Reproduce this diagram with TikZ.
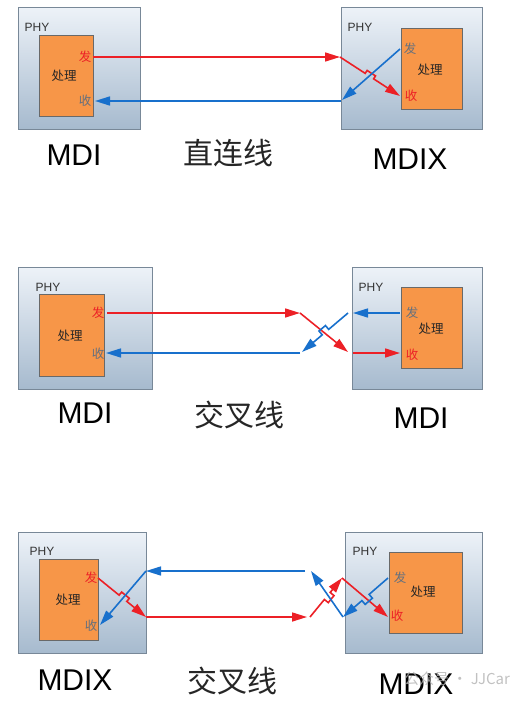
\documentclass[tikz,border=0pt]{standalone}
\usepackage{fontspec}
\setmainfont{Liberation Sans}
\newfontfamily\cjk{Noto Sans CJK SC}
\usepackage{tikz}
\usetikzlibrary{arrows.meta, calc, positioning}

\definecolor{txred}{RGB}{236, 32, 38}
\definecolor{rxblue}{RGB}{24, 112, 204}
\definecolor{coreorange}{RGB}{247, 150, 72}
\definecolor{coreedge}{RGB}{105, 105, 105}
\definecolor{phytop}{RGB}{237, 242, 248}
\definecolor{phybot}{RGB}{166, 186, 206}
\definecolor{phyedge}{RGB}{120, 136, 152}
\definecolor{portgray}{RGB}{100, 112, 126}

% line with a small bridge where it jumps over the other pair
\newcommand{\hopline}[6][]{%
  \draw[#1] (#2) -- ($(#2)!#4!(#3)$) -- ($(#2)!#4!(#3)!#6!90:(#3)$)
    -- ($(#2)!#5!(#3)!#6!90:(#3)$) -- ($(#2)!#5!(#3)$) -- (#3);}

\tikzset{
  phybox/.style={draw=phyedge, line width=0.8pt, top color=phytop, bottom color=phybot, anchor=north west, inner sep=0pt},
  corebox/.style={draw=coreedge, line width=0.8pt, fill=coreorange, anchor=north west, inner sep=0pt},
  phylabel/.style={font=\fontsize{12}{12}\selectfont, text=black!80},
  corelabel/.style={font=\cjk\fontsize{12.5}{12.5}\selectfont, text=black!85},
  porttx/.style={font=\cjk\fontsize{12.5}{12.5}\selectfont, text=#1},
  txline/.style={draw=txred, line width=1.6pt, -{Triangle[length=15pt,width=9pt]}},
  rxline/.style={draw=rxblue, line width=1.6pt, -{Triangle[length=15pt,width=9pt]}},
  modelabel/.style={font=\fontsize{30}{30}\selectfont},
  cablelabel/.style={font=\cjk\fontsize{30}{30}\selectfont, text=black!85}
}

\begin{document}
\begin{tikzpicture}[x=1pt, y=-1pt]
  \useasboundingbox (0,0) rectangle (527,701);

  % --- Top: MDI to MDIX, straight cable ---
  \node[phybox, minimum width=122pt, minimum height=122pt] (phyA) at (18,7) {};
  \node[corebox, minimum width=54pt, minimum height=81pt] (coreA) at (39,35) {};
  \node[phybox, minimum width=141pt, minimum height=122pt] (phyB) at (341,7) {};
  \node[corebox, minimum width=61pt, minimum height=81pt] (coreB) at (401,28) {};
  \node[phylabel] (phyAtxt) at (37,27) {PHY};
  \node[phylabel] (phyBtxt) at (360,27) {PHY};
  \node[porttx=txred] (txA) at (85,57) {发};
  \node[corelabel] (procA) at (64,76) {处理};
  \node[porttx=portgray] (rxA) at (85,101) {收};
  \node[porttx=portgray] (txB) at (410,49) {发};
  \node[corelabel] (procB) at (430,70) {处理};
  \node[porttx=txred] (rxB) at (411,96) {收};
  \coordinate (a1) at (93,57);
  \coordinate (a2) at (340,57);
  \coordinate (a3) at (400,96);
  \coordinate (a4) at (400,49);
  \coordinate (a5) at (342,100);
  \coordinate (a6) at (341,101);
  \coordinate (a7) at (95,101);
  \draw[txline] (a1) -- (a2);
  \hopline[txline]{a2}{a3}{0.42}{0.56}{3.5pt}
  \draw[rxline] (a4) -- (a5);
  \draw[rxline] (a6) -- (a7);
  \node[modelabel] (modeA) at (74,155) {MDI};
  \node[cablelabel] (cableA) at (228,153) {直连线};
  \node[modelabel] (modeB) at (410,159) {MDIX};

  % --- Middle: MDI to MDI, crossover cable ---
  \node[phybox, minimum width=134pt, minimum height=122pt] (phyC) at (18,267) {};
  \node[corebox, minimum width=65pt, minimum height=82pt] (coreC) at (39,294) {};
  \node[phybox, minimum width=130pt, minimum height=122pt] (phyD) at (352,267) {};
  \node[corebox, minimum width=61pt, minimum height=81pt] (coreD) at (401,287) {};
  \node[phylabel] (phyCtxt) at (48,287) {PHY};
  \node[phylabel] (phyDtxt) at (371,287) {PHY};
  \node[porttx=txred] (txC) at (98,313) {发};
  \node[corelabel] (procC) at (70,336) {处理};
  \node[porttx=portgray] (rxC) at (98,354) {收};
  \node[porttx=portgray] (txD) at (412,313) {发};
  \node[corelabel] (procD) at (431,329) {处理};
  \node[porttx=txred] (rxD) at (412,355) {收};
  \coordinate (c1) at (107,313);
  \coordinate (c2) at (300,313);
  \coordinate (c3) at (348,352);
  \coordinate (c4) at (348,313);
  \coordinate (c5) at (302,352);
  \coordinate (c6) at (300,353);
  \coordinate (c7) at (106,353);
  \coordinate (d1) at (400,313);
  \coordinate (d2) at (353,313);
  \coordinate (d3) at (353,353);
  \coordinate (d4) at (400,353);
  \draw[txline] (c1) -- (c2);
  \draw[txline] (c2) -- (c3);
  \hopline[rxline]{c4}{c5}{0.42}{0.56}{-5pt}
  \draw[rxline] (c6) -- (c7);
  \draw[rxline] (d1) -- (d2);
  \draw[txline] (d3) -- (d4);
  \node[modelabel] (modeC) at (85,413) {MDI};
  \node[cablelabel] (cableC) at (239,415) {交叉线};
  \node[modelabel] (modeD) at (421,418) {MDI};

  % --- Bottom: MDIX to MDIX, crossover cable ---
  \node[phybox, minimum width=128pt, minimum height=121pt] (phyE) at (18,532) {};
  \node[corebox, minimum width=59pt, minimum height=81pt] (coreE) at (39,559) {};
  \node[phybox, minimum width=137pt, minimum height=121pt] (phyF) at (345,532) {};
  \node[corebox, minimum width=73pt, minimum height=81pt] (coreF) at (389,552) {};
  \node[phylabel] (phyEtxt) at (42,551) {PHY};
  \node[phylabel] (phyFtxt) at (365,551) {PHY};
  \node[porttx=txred] (txE) at (91,578) {发};
  \node[corelabel] (procE) at (68,600) {处理};
  \node[porttx=portgray] (rxE) at (91,626) {收};
  \node[porttx=portgray] (txF) at (400,578) {发};
  \node[corelabel] (procF) at (423,592) {处理};
  \node[porttx=txred] (rxF) at (397,616) {收};
  \coordinate (e1) at (98,578);
  \coordinate (e2) at (146,617);
  \coordinate (e3) at (307,617);
  \coordinate (e4) at (305,571);
  \coordinate (e5) at (146,571);
  \coordinate (e6) at (100,625);
  \coordinate (f1) at (310,617);
  \coordinate (f2) at (342,578);
  \coordinate (f3) at (388,617);
  \coordinate (f4) at (388,578);
  \coordinate (f5) at (343,617);
  \coordinate (f6) at (311,571);
  \hopline[txline]{e1}{e2}{0.44}{0.6}{4pt}
  \draw[txline] (e2) -- (e3);
  \draw[rxline] (e4) -- (e5);
  \draw[rxline] (e5) -- (e6);
  \hopline[txline]{f1}{f2}{0.45}{0.63}{-5pt}
  \draw[txline] (f2) -- (f3);
  \hopline[rxline]{f4}{f5}{0.42}{0.58}{5pt}
  \draw[rxline] (f5) -- (f6);
  \node[modelabel] (modeE) at (75,680) {MDIX};
  \node[cablelabel] (cableE) at (232,681) {交叉线};
  \node[modelabel] (modeF) at (416,684) {MDIX};
  \node[font=\cjk\fontsize{15}{15}\selectfont, text=black!30, opacity=0.8] (mark) at (457,679) {公众号 · JJCar};
\end{tikzpicture}
\end{document}
